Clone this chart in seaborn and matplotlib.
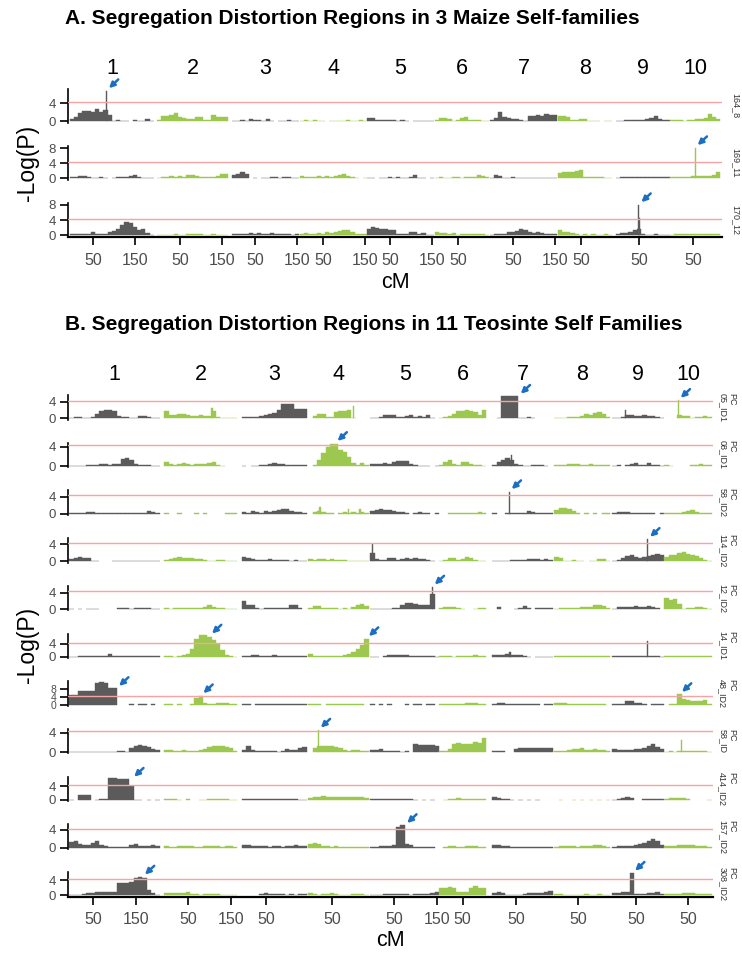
import numpy as np
import matplotlib
matplotlib.use("Agg")
import matplotlib.pyplot as plt
import matplotlib.transforms as mtransforms
import seaborn as sns

nan = np.nan

# ------------------------------------------------------------------
# DATA  (profiles sampled every STEP_CM cM along each chromosome)
# ------------------------------------------------------------------

STEP_CM = 10
THRESHOLD = 4.3
CHROM_LABELS = ["1", "2", "3", "4", "5", "6", "7", "8", "9", "10"]
A_CHROM_START = [0, 207, 386, 548, 707, 869, 1000, 1162, 1300, 1429]
B_CHROM_START = [0, 221, 402, 556, 700, 860, 984, 1128, 1263, 1384]
A_XLIM = (-9.5, 1548)
B_XLIM = (-8.0, 1492)

A_FAMILIES = ["164_8", "169_11", "170_12"]
B_FAMILIES = ["PC\n05_ID1", "PC\n08_ID1", "PC\n58_ID2", "PC\n114_ID2",
              "PC\n12_ID2", "PC\n14_ID1", "PC\n48_ID2", "PC\n58_ID",
              "PC\n414_ID2", "PC\n157_ID2", "PC\n308_ID2"]

# ---- A: maize self families ----
A_164_8 = [
    [0.5, 1.0, 1.8, 2.3, 2.2, 2.0, 2.8, 2.0, 2.5, 1.5, 0.1, 0.3, 0.2, 0.1, nan, 0.4, 0.1, 0.2, 0.6, 0.1],
    [0.3, 1.2, 1.3, 1.5, 1.8, 1.0, 0.7, 0.6, 0.6, 1.0, 0.9, 0.3, 0.4, 1.4, 1.0, 1.0, 0.9],
    [0.1, 0.1, 0.3, 0.2, 0.5, 0.4, 0.3, 0.2, 0.6, 0.2, nan, 0.1, 0.2, 0.3, 0.1, 0.2],
    [0.1, 0.3, 0.1, 0.4, 0.2, 0.1, nan, 0.2, 0.1, 0.2, 0.1, 0.3, 0.1, 0.2, 0.4, 0.1],
    [0.8, 0.7, 0.4, 0.3, 0.3, 0.4, 0.3, 0.2, 0.3, 0.2, nan, 0.2, 0.1, 0.2, 0.2, 0.1],
    [0.4, 0.7, 0.8, 0.5, 0.2, 0.3, 0.7, 0.9, 0.4, 0.3, 0.3, 0.2, 0.2],
    [0.3, 0.8, 2.0, 1.0, 0.7, 0.6, 0.6, 0.4, 0.2, 1.1, 1.3, 1.4, 1.3, 1.6, 1.4, 1.5],
    [1.3, 1.2, 1.0, 0.3, 0.4, 0.6, 0.5, 0.2, 0.2, 0.1, nan, 0.1, 0.1],
    [0.2, 0.2, 0.3, 0.3, 0.3, 0.4, 0.4, 0.5, 0.7, 1.2, 0.6, 0.3, 0.3],
    [0.3, 0.4, 0.3, 0.2, 0.4, 0.4, 0.5, 0.6, 0.8, 1.6, 0.9, 0.6],
]
A_164_8_SPIKES = [(1, 82, 6.8)]
A_164_8_ARROWS = [(1, 82, 6.8)]

A_169_11 = [
    [0.4, 0.5, 0.6, 0.7, 0.3, 0.2, 0.2, 0.3, 0.1, nan, 0.1, 0.4, 0.4, 0.5, 0.6, 0.8, 0.4, 0.1, 0.1, 0.1],
    [0.2, 0.4, 0.5, 0.6, 0.5, 0.6, 0.5, 0.8, 0.9, 0.6, 0.4, 0.5, 0.4, 0.5, 0.6, 1.1, 1.3],
    [0.8, 1.3, 1.7, 1.2, nan, 0.1, nan, 0.1, 0.2, 0.3, 0.3, 0.2, 0.3, 0.3, 0.2, 0.1],
    [0.6, 0.5, 0.5, 0.4, 0.6, 0.5, 0.6, 0.5, 0.6, 0.9, 1.2, 0.6, 0.3, 0.2, nan, 0.1],
    [0.1, 0.1, nan, 0.2, 0.2, 0.3, 0.2, 0.3, 0.1, 0.2, 0.3, 0.8, 0.2, 0.1, nan, 0.1],
    [0.2, 0.3, 0.2, 0.1, 0.3, 0.4, 0.2, 0.3, 0.5, 0.4, 1.0, 0.6, 0.3],
    [0.2, 1.0, 0.6, 0.1, 0.2, 0.3, 0.2, 0.2, 0.2, 0.2, 0.2, 0.2, 0.1, 0.2, 0.2, 0.1],
    [1.5, 1.6, 1.7, 1.8, 2.0, 2.3, 0.3, 0.3, 0.4, 0.3, 0.3, 0.2, 0.2],
    [0.2, 0.3, 0.4, 0.4, 0.3, 0.4, 0.4, 0.5, 0.4, 0.4, 0.4, 0.3, 0.3],
    [0.3, 0.3, 0.3, 0.4, 0.3, 0.6, 0.7, 0.6, 0.7, 0.6, 0.8, 1.6],
]
A_169_11_SPIKES = [(10, 55, 8.2)]
A_169_11_ARROWS = [(10, 55, 8.2)]

A_170_12 = [
    [0.3, 0.4, 0.3, 0.4, 0.5, 0.8, 0.5, 0.4, 0.5, 1.0, 1.1, 1.8, 2.8, 3.6, 3.2, 2.2, 1.3, 1.6, 0.6, 0.2],
    [0.2, 0.1, 0.2, 0.1, 0.3, 0.2, 0.2, 0.3, 0.4, 0.5, 0.3, 0.2, 0.2, 0.3, 0.2, 0.2, 0.1],
    [0.4, 0.5, 0.3, 0.5, 0.6, 0.5, 0.7, 0.5, 0.4, 0.6, 0.5, 0.3, 0.3, 0.3, 0.2, 0.3],
    [0.5, 0.6, 0.4, 0.5, 0.7, 0.5, 0.8, 0.7, 0.9, 1.1, 1.3, 1.4, 1.0, 0.4, 0.5, 0.5],
    [1.8, 2.2, 1.9, 1.7, 1.6, 1.4, 1.3, 0.5, 0.3, 0.3, 0.8, 0.9, 0.3, 0.7, 0.2, 0.2],
    [0.8, 0.7, 0.6, 0.5, 0.6, 0.2, 0.3, 0.3, 0.4, 0.3, 0.3, 0.3, 0.2],
    [0.2, 0.3, 0.3, 0.5, 0.8, 1.0, 1.2, 1.6, 1.3, 0.8, 0.7, 0.8, 0.6, 0.5, 0.4, 0.3],
    [1.5, 1.0, 0.8, 0.7, 0.3, 0.2, 0.3, 0.2, 0.3, 0.2, 0.2, 0.3, 0.2],
    [0.5, 0.6, 0.7, 0.8, 1.5, 1.6, 0.3, 0.2, 0.1, 0.3, 0.2, 0.2, 0.1],
    [0.2, 0.3, 0.3, 0.3, 0.4, 0.4, 0.5, 0.5, 0.4, 0.3, 0.3, 0.4],
]
A_170_12_SPIKES = [(9, 50, 8.1), (9, 52.5, 4.6)]
A_170_12_ARROWS = [(9, 50, 8.1)]

# ---- B: teosinte self families ----
B_05_ID1 = [
    [0.2, 0.3, 0.3, 0.2, 0.2, 0.3, 1.0, 1.9, 2.0, 2.0, 1.9, 0.5, 0.4, 0.3, 0.2, 0.2, 0.6, 0.6, 0.4, 0.2, 0.2],
    [1.8, 0.8, 0.8, 1.0, 1.1, 0.9, 0.6, 0.6, 0.7, 0.5, 0.6, 1.8, 0.4, 0.1, 0.1, 0.1, 0.1],
    [0.3, 0.3, 0.3, 0.3, 0.6, 0.8, 1.0, 1.3, 2.0, 3.6, 3.6, 3.5, 2.2, 2.3, 2.2],
    [nan, 0.6, 1.1, 1.0, 0.3, 0.4, 1.6, 1.8, 1.9, 2.1, 0.1, nan, nan, nan],
    [0.1, 0.2, 0.3, 0.8, 0.9, 0.7, 0.3, 0.4, 0.5, 0.8, 0.3, 0.5, 0.4, 0.7, 0.2, nan],
    [0.2, 0.3, 0.5, 1.0, 1.7, 1.9, 2.1, 1.8, 1.5, 0.8, 2.0],
    [nan, 0.1, 5.4, 5.4, 5.4, 5.4, 0.2, 0.2, 0.3, 0.1, nan, nan, nan, nan],
    [0.1, 0.2, 0.2, 0.3, 0.3, 0.4, 0.5, 1.0, 0.9, 1.3, 1.5, 1.0, 0.4],
    [0.1, 0.2, 0.3, 0.7, 0.7, 0.6, 0.6, 0.7, 0.5, 0.6, 0.4, 0.2],
    [nan, nan, nan, 0.7, 0.6, 0.5, 0.2, 0.3, 0.4, 0.5, 0.3],
]
B_05_ID1_SPIKES = [(2, 106, 2.5), (4, 100, 2.9), (9, 25, 2.0), (10, 27, 4.4)]
B_05_ID1_ARROWS = [(7, 55, 5.4), (10, 27, 4.4)]

B_08_ID1 = [
    [0.1, 0.1, 0.1, 0.1, 0.2, 0.2, 0.3, 0.4, 0.4, 0.3, 0.4, 0.5, 1.4, 1.6, 1.3, 0.4, 0.3, 0.3, 0.2, 0.1, 0.1],
    [0.8, 0.4, 0.3, 0.4, 0.6, 0.5, 0.3, 0.5, 0.4, 0.5, 0.7, 0.8, 0.3, 0.1, nan, nan, nan],
    [0.1, nan, 0.1, 0.1, 0.2, 0.3, 0.4, 0.6, 0.5, 0.4, 0.3, 0.3, 0.2, 0.3, 0.2],
    [nan, 0.2, 1.2, 2.6, 4.0, 4.6, 4.5, 3.3, 3.0, 1.8, 0.6, 0.3, 0.6, 0.2],
    [0.4, 0.5, 0.5, 0.6, 0.5, 0.9, 1.0, 1.1, 1.0, 0.5, 0.2, 0.1, 0.1, 0.1, nan, 0.1],
    [0.3, 0.8, 1.2, 0.4, 0.2, 0.8, 0.9, 0.5, 0.2, 0.2, 0.1],
    [0.3, 0.9, 1.2, 1.6, 1.2, 0.4, 0.2, 0.1, 0.1, 0.2, 0.3, 0.3, 0.1, nan],
    [0.2, 0.3, 0.3, 0.4, 0.5, 0.4, 0.3, 0.3, 0.4, 0.3, 0.3, 0.3, 0.2],
    [0.1, 0.2, nan, 0.3, 0.5, 0.6, 0.3, 0.2, 0.6, 0.3, 0.2, 0.1],
    [0.2, 0.1, nan, nan, nan, nan, 0.3, 0.3, 0.4, 0.3, 0.3],
]
B_08_ID1_SPIKES = [(7, 40, 2.2)]
B_08_ID1_ARROWS = [(4, 57, 4.7)]

B_58_ID2 = [
    [0.1, 0.1, 0.1, 0.1, 0.4, 0.4, 0.3, 0.1, 0.1, 0.3, 0.3, 0.3, 0.3, 0.2, 0.1, 0.1, 0.1, 0.2, 0.6, 0.5, 0.1],
    [0.1, nan, nan, 0.1, nan, nan, nan, 0.1, nan, 0.1, nan, nan, nan, nan, 0.2, 0.2, 0.1],
    [0.4, 0.3, 0.6, 0.4, 0.3, 0.7, 0.5, 0.6, 0.8, 1.1, 1.2, 0.7, 0.5, 0.4, 0.3],
    [nan, 0.5, 0.6, 0.5, 0.2, 0.1, nan, 0.3, 0.4, 0.3, 0.4, 0.3, 0.4, 0.3],
    [0.6, 0.9, 1.1, 1.0, 0.9, 0.7, 0.4, 0.5, 0.3, nan, 0.3, 0.4, 0.3, 0.1, nan, 0.1],
    [nan, nan, 0.2, 0.3, 0.2, 0.3, 0.3, 0.3, 0.3, 0.4, 0.2],
    [0.1, nan, nan, 0.1, 0.2, 0.2, 0.3, 0.2, 0.6, 0.4, 0.2, 0.2, 0.3, 0.1],
    [1.0, 1.3, 1.4, 1.2, 0.6, 0.1, nan, 0.1, nan, 0.1, nan, 0.1, 0.1],
    [0.3, 0.4, 0.4, 0.4, 0.3, 0.3, 0.2, 0.1, 0.2, 0.1, nan, 0.1],
    [0.1, 0.2, 0.2, 0.3, 0.4, 0.6, 0.8, 0.5, 0.3, 0.2, 0.1],
]
B_58_ID2_SPIKES = [(4, 22, 1.7), (4, 88, 1.2), (4, 115, 1.1), (7, 34, 5.2)]
B_58_ID2_ARROWS = [(7, 34, 5.2)]

B_114_ID2 = [
    [0.5, 0.8, 1.0, 0.9, 0.7, 0.2, 0.1, nan, nan, nan, 0.1, 0.1, 0.1, 0.1, 0.1, 0.2, 0.2, 0.1, 0.1, 0.1, 0.1],
    [0.3, 0.6, 0.8, 1.1, 0.9, 0.8, 0.7, 0.6, 0.5, 0.4, 0.2, 0.1, 0.3, 0.3, 0.2, 0.1, 0.1],
    [1.1, 0.8, 0.5, 0.4, 0.3, 0.4, 0.5, 0.4, 0.3, 0.3, 0.3, 0.2, 0.3, 0.2, 0.1],
    [0.5, 0.4, 0.5, 0.6, 0.4, 0.5, 0.4, 0.3, 0.3, 0.2, 0.1, 0.1, 0.2, 0.1],
    [2.0, 0.5, 0.4, 0.4, 0.7, 0.8, 0.4, 0.6, 0.7, 0.6, 0.7, 0.5, 0.6, 0.3, 0.1, nan],
    [0.2, 0.4, 0.8, 0.9, 0.3, 0.5, 1.0, 0.7, 0.3, 0.2, 0.1],
    [0.1, 0.1, 0.2, 0.2, 0.3, 0.3, 0.3, 0.4, 0.5, 0.5, 0.6, 0.4, 0.5, 0.3],
    [1.0, 0.8, 0.2, 0.2, 0.3, 0.2, 0.1, nan, 0.2, 0.2, 0.6, 0.5, 0.2],
    [0.2, 0.4, 0.8, 1.3, 1.5, 1.0, 0.8, 1.1, 1.3, 1.6, 1.8, 1.5],
    [1.0, 1.5, 1.6, 1.9, 2.1, 1.8, 1.6, 1.2, 0.8, 0.4, 0.2],
]
B_114_ID2_SPIKES = [(5, 1, 4.0), (9, 77, 5.2)]
B_114_ID2_ARROWS = [(9, 77, 5.2)]

B_12_ID2 = [
    [0.1, nan, 0.1, nan, 0.1, 0.1, 0.1, nan, nan, nan, nan, 0.2, 0.4, 0.2, 0.1, 0.3, 0.2, 0.3, 0.2, 0.1, 0.1],
    [0.2, 0.1, 0.2, 0.3, 0.3, 0.2, 0.2, 0.3, 0.4, 0.6, 1.0, 0.6, 0.3, 0.2, 0.1, 0.1, 0.1],
    [1.9, 1.0, 1.1, 0.3, 0.1, 0.3, 0.3, 0.2, 0.3, 0.2, 0.4, 1.0, 1.0, 0.2, nan],
    [0.3, 0.7, 0.8, 0.4, 0.2, 0.3, 0.2, 0.1, 0.2, 0.1, 0.5, 1.1, 1.3, 0.7],
    [0.1, 0.1, 0.1, 0.1, 0.1, 0.2, 0.2, 1.1, 1.4, 1.5, 1.3, 0.9, 1.0, 0.9, 3.6, nan],
    [0.3, 0.5, 0.6, 0.5, 0.4, 0.1, nan, nan, 0.1, 0.2, 0.3],
    [nan, 0.6, nan, nan, nan, 0.1, 0.4, 0.8, 0.4, nan, 0.4, 0.4, 0.4, 0.3],
    [0.1, 0.3, 0.3, 0.3, 0.4, 0.4, 0.5, 0.5, 0.6, 0.9, 1.1, 0.7, 0.2],
    [0.1, 0.5, 0.6, 0.6, 0.6, 0.7, 0.6, 0.5, 0.7, 0.5, 0.2, nan],
    [2.8, 2.2, 2.5, 1.3, 0.1, 0.2, 0.3, 0.5, 0.6, 0.3, 0.1],
]
B_12_ID2_SPIKES = [(5, 139, 5.4)]
B_12_ID2_ARROWS = [(5, 139, 5.4)]

B_14_ID1 = [
    [0.1, 0.1, 0.3, 0.3, 0.3, 0.3, 0.3, 0.3, 0.3, 0.8, 0.3, 0.2, 0.3, 0.2, 0.3, 0.3, 0.2, 0.3, 0.3, 0.2, 0.2],
    [0.4, 0.3, 0.1, 0.2, 0.5, 1.0, 2.5, 5.5, 6.8, 6.7, 6.2, 5.2, 3.8, 2.2, 0.7, 0.3, 0.1],
    [0.3, 0.3, 0.5, 0.6, 0.4, 0.3, 0.4, 0.5, 0.3, 0.4, 0.4, 0.3, 0.2, 0.3, 0.2],
    [0.8, 0.4, 0.2, 0.2, 0.3, 0.3, 0.4, 0.4, 0.6, 0.9, 1.6, 2.5, 3.6, 5.6],
    [0.1, 0.1, nan, 0.3, 0.5, 0.6, 0.7, 0.6, 0.5, 0.4, 0.4, 0.3, 0.4, 0.2, 0.3, 0.1],
    [0.3, 0.4, 0.3, 0.1, 0.3, 0.2, 0.3, 0.4, 0.5, 0.3, 0.2],
    [0.6, 0.7, 0.6, 0.8, 0.6, 0.6, 0.5, 0.3, 0.1, nan, 0.1, 0.1, 0.1, 0.1],
    [0.3, 0.4, 0.3, 0.2, 0.2, 0.3, 0.3, 0.4, 0.3, 0.4, 0.4, 0.3, 0.2],
    [0.2, 0.3, 0.3, 0.3, 0.2, 0.2, 0.3, 0.2, 0.3, 0.3, 0.2, 0.1],
    [0.2, 0.2, 0.3, 0.2, 0.2, 0.3, 0.3, 0.3, 0.4, 0.3, 0.2],
]
B_14_ID1_SPIKES = [(7, 36, 1.5), (9, 76, 4.7)]
B_14_ID1_ARROWS = [(2, 100, 6.4), (4, 130, 5.6)]

B_48_ID2 = [
    [4.7, 4.7, 6.7, 6.7, 6.7, 6.7, 11.0, 11.4, 11.2, 8.3, 8.3, nan, nan, nan, 0.1, nan, 0.1, 0.1, nan, 0.1, nan],
    [0.1, 0.1, nan, 0.1, nan, nan, 0.1, 3.2, 4.6, 0.8, 0.5, 0.5, 0.7, 0.8, 0.6, 0.4, 0.2],
    [0.2, 0.1, nan, 0.2, 0.1, 0.2, 0.2, 0.1, 0.3, 0.2, 0.2, 0.2, 0.2, 0.1, 0.1],
    [0.1, 0.2, 0.1, nan, 0.2, 0.2, 0.3, 0.3, 0.2, 0.3, 0.5, 0.3, 0.2, nan],
    [0.1, nan, 0.1, nan, 0.1, nan, nan, nan, 0.1, nan, 0.2, 0.1, nan, 0.1, 0.1, nan],
    [0.1, 0.2, 0.3, 0.3, 0.4, 0.5, 0.6, 0.8, 1.0, 0.5, 0.4],
    [0.4, 1.0, 0.9, 0.5, 0.3, 0.3, 0.3, 0.2, 0.2, 0.2, 0.1, nan, 0.1, 0.1],
    [0.8, 0.9, 0.6, 0.3, 0.2, 0.2, 0.3, 0.2, 0.2, 0.3, 0.2, 0.1, nan],
    [0.1, 0.2, 0.5, 1.8, 1.6, 1.0, 0.6, 0.3, nan, 0.3, 0.4, 0.2],
    [nan, 0.2, 0.2, 5.2, 3.0, 2.2, 2.0, 2.0, 2.0, 2.5, 0.1],
]
B_48_ID2_SPIKES = []
B_48_ID2_ARROWS = [(1, 105, 8.3), (2, 80, 4.6), (10, 30, 5.2)]

B_58_ID = [
    [0.1, 0.1, 0.1, 0.1, 0.1, 0.1, 0.1, 0.1, 0.1, 0.1, 0.1, 0.2, 0.3, 0.1, 0.8, 1.2, 1.5, 1.2, 1.0, 0.7, 0.4],
    [0.5, 0.4, 0.3, 0.3, 0.4, 0.3, 0.3, 0.3, 0.4, 0.6, 1.1, 1.3, 1.4, 1.2, 1.0, 0.9, 0.3],
    [0.5, 1.2, 0.5, 0.2, 0.2, 0.3, 0.3, 0.2, 0.1, 0.3, 0.6, 0.4, 0.5, 0.8, 1.1],
    [nan, 0.9, 1.2, 1.3, 1.4, 1.2, 1.0, 0.8, 0.5, 0.3, 0.4, 0.5, 0.3, 0.2],
    [0.4, 0.5, 0.6, 0.3, 0.2, 0.2, 0.2, 0.1, 0.2, nan, 1.8, 1.6, 1.5, 1.5, 1.6, 1.4],
    [0.2, 0.3, 0.6, 1.8, 1.9, 1.8, 1.7, 1.8, 2.2, 2.0, 3.0],
    [0.3, 0.2, 0.3, nan, nan, 0.6, 0.8, 0.8, 0.8, 0.8, 0.8, 0.9, 0.9, 0.9],
    [0.2, 0.3, 0.3, 0.5, 0.6, 0.6, 0.8, 0.5, 0.4, 0.7, 0.4, 0.4, 0.2],
    [0.6, 0.5, 0.4, 0.4, 0.5, 0.6, 0.7, 0.9, 1.2, 1.8, 1.0, 0.6],
    [0.1, 0.2, 0.1, 0.2, 0.3, 0.2, 0.2, 0.3, 0.2, 0.2, 0.1],
]
B_58_ID_SPIKES = [(4, 18, 4.6), (10, 35, 2.6)]
B_58_ID_ARROWS = [(4, 18, 4.6)]

B_414_ID2 = [
    [0.1, nan, 1.5, 1.5, 1.5, nan, 0.1, 0.2, 0.3, 6.2, 6.4, 6.0, 6.0, 5.9, 4.0, 0.1, 0.1, nan, 0.1, nan, 0.1],
    [0.2, 0.2, 0.3, 0.1, nan, 0.2, nan, nan, 0.1, 0.1, 0.2, 0.2, 0.2, 0.2, 0.2, 0.1, 0.1],
    [0.3, 0.3, 0.2, 0.3, 0.3, 0.3, 0.2, 0.3, 0.3, 0.3, 0.4, 0.3, 0.2, 0.1, 0.1],
    [0.5, 0.9, 1.0, 1.1, 1.0, 0.9, 0.8, 0.8, 0.9, 0.8, 0.8, 0.9, 1.0, 0.7],
    [0.3, 0.3, 0.3, 0.3, 0.3, 0.3, 0.3, 0.3, 0.2, 0.2, 0.1, nan, 0.1, nan, 0.1, nan],
    [nan, 0.1, 0.3, 0.4, 0.5, 0.4, 0.3, 0.4, 0.3, 0.2, 0.2],
    [1.0, 0.6, 0.4, 0.2, 0.1, nan, 0.1, nan, 0.1, nan, 0.1, nan, nan, nan],
    [nan, 0.1, nan, nan, 0.1, nan, 0.1, nan, 0.1, nan, 0.1, nan, 0.1],
    [0.1, 0.3, 0.5, 0.9, 0.5, nan, nan, 0.3, 0.3, 0.3, 0.3, 0.2],
    [0.4, 0.5, 0.6, 0.6, 0.5, 0.3, nan, nan, nan, nan, 0.1],
]
B_414_ID2_SPIKES = []
B_414_ID2_ARROWS = [(1, 140, 6.0)]

B_157_ID2 = [
    [1.2, 1.4, 0.8, 0.7, 0.6, 1.0, 1.4, 0.7, 0.3, 0.2, 0.2, 0.1, 0.1, 0.2, 0.5, 0.8, 0.4, 0.3, 0.3, 0.5, 0.3],
    [0.4, 0.2, 0.2, 0.3, 0.4, 0.3, 0.3, 0.2, 0.2, 0.3, 0.4, 0.3, 0.3, 0.2, 0.3, 0.3, 0.2],
    [0.5, 0.6, 0.4, 0.3, 0.4, 0.3, 0.2, 0.3, 0.3, 0.2, 0.3, 0.4, 0.5, 0.4, 0.4],
    [0.9, 1.0, 0.8, 0.4, 0.3, 0.2, 0.3, 0.2, 0.2, 0.1, 0.1, 0.1, 0.1, 0.1],
    [0.2, 0.2, 0.3, 0.3, 0.3, 0.6, 4.7, 5.0, 0.9, 0.7, 0.2, 0.2, 0.1, 0.1, 0.1, nan],
    [nan, 0.1, 0.3, 0.3, 0.2, 0.2, 0.3, 0.3, 0.3, 0.2, 0.2],
    [0.6, 0.5, 0.3, 0.3, 0.2, 0.2, 0.2, 0.2, 0.1, 0.1, 0.1, 0.1, 0.1, 0.1],
    [0.2, 0.3, 0.3, 0.3, 0.3, 0.2, 0.3, 0.3, 0.4, 0.5, 0.6, 0.3, 0.2],
    [0.2, 0.3, 0.3, 0.3, 0.4, 0.5, 0.8, 1.1, 1.4, 1.9, 1.5, 0.6],
    [0.3, 0.4, 0.4, 0.5, 0.5, 0.6, 0.5, 0.4, 0.3, 0.3, 0.2],
]
B_157_ID2_SPIKES = []
B_157_ID2_ARROWS = [(5, 75, 5.0)]

B_308_ID2 = [
    [0.2, 0.2, 0.2, 0.3, 0.6, 0.7, 0.8, 0.8, 0.9, 0.8, 0.9, 3.2, 3.2, 3.3, 3.4, 4.4, 4.7, 4.5, 1.5, 0.6, 0.2],
    [0.6, 0.5, 0.6, 0.5, 0.7, 0.8, 0.3, 0.3, 0.2, 0.3, 0.3, 0.4, 0.3, 0.2, 0.2, 0.2, 0.1],
    [nan, nan, nan, nan, 0.3, 0.5, 0.3, 0.3, 0.4, 0.3, 0.2, 0.3, 0.2, 0.3, 0.4],
    [0.5, 0.4, 0.2, 0.3, 0.4, 0.5, 0.3, 0.2, 0.2, 0.2, 0.3, 0.3, 0.4, 0.2],
    [0.1, 0.2, 0.2, 0.3, 0.4, 0.3, 0.3, 0.3, 0.3, 0.2, 0.3, 0.3, 0.3, 0.4, 0.5, 0.9],
    [1.8, 2.0, 2.2, 2.0, 1.0, 0.8, 0.9, 1.8, 2.4, 2.0, 1.8],
    [0.7, 0.9, 0.7, 0.2, 0.1, 0.2, 0.2, 0.3, 0.5, 0.6, 0.7, 0.6, 0.8, 1.2],
    [0.3, 0.3, 0.2, 0.2, 0.2, 0.2, 0.2, 0.3, 0.2, 0.2, 0.3, 0.2, 0.2],
    [0.5, 0.6, 0.8, 0.9, 5.8, 0.3, 0.3, 0.4, 0.7, 0.7, 0.8, 0.4],
    [0.3, 0.3, 0.4, 0.4, 0.5, 0.5, 0.6, 0.4, 0.3, 0.3, 0.3],
]
B_308_ID2_SPIKES = []
B_308_ID2_ARROWS = [(1, 165, 4.8), (9, 42, 5.8)]

A_PANELS = [(A_164_8, A_164_8_SPIKES, A_164_8_ARROWS),
            (A_169_11, A_169_11_SPIKES, A_169_11_ARROWS),
            (A_170_12, A_170_12_SPIKES, A_170_12_ARROWS)]
B_PANELS = [(B_05_ID1, B_05_ID1_SPIKES, B_05_ID1_ARROWS),
            (B_08_ID1, B_08_ID1_SPIKES, B_08_ID1_ARROWS),
            (B_58_ID2, B_58_ID2_SPIKES, B_58_ID2_ARROWS),
            (B_114_ID2, B_114_ID2_SPIKES, B_114_ID2_ARROWS),
            (B_12_ID2, B_12_ID2_SPIKES, B_12_ID2_ARROWS),
            (B_14_ID1, B_14_ID1_SPIKES, B_14_ID1_ARROWS),
            (B_48_ID2, B_48_ID2_SPIKES, B_48_ID2_ARROWS),
            (B_58_ID, B_58_ID_SPIKES, B_58_ID_ARROWS),
            (B_414_ID2, B_414_ID2_SPIKES, B_414_ID2_ARROWS),
            (B_157_ID2, B_157_ID2_SPIKES, B_157_ID2_ARROWS),
            (B_308_ID2, B_308_ID2_SPIKES, B_308_ID2_ARROWS)]

# ------------------------------------------------------------------
# STYLE
# ------------------------------------------------------------------

W, H = 742, 957
GRAY = "#5B5B5B"
GREEN = "#9DC84F"
RED = "#F5A3A3"
BLUE = "#1B6EC2"
TICK_GRAY = "#4D4D4D"

sns.set_theme(style="white")
plt.rcParams["font.family"] = ["Liberation Sans", "DejaVu Sans"]
plt.rcParams["text.color"] = "black"


def px_axes(fig, left, top, right, height):
    return fig.add_axes([left / W, 1 - (top + height) / H,
                         (right - left) / W, height / H])


def draw_panel(ax, profile, spikes, arrows, starts, xlim, show_x):
    ymax = 0.0
    for k, vals in enumerate(profile):
        col = GRAY if k % 2 == 0 else GREEN
        vals = np.array(vals, dtype=float)
        x = starts[k] + STEP_CM * np.arange(len(vals))
        ax.bar(x, vals, width=STEP_CM, color=col, edgecolor=col,
               linewidth=0.3, align="center")
        ymax = max(ymax, np.nanmax(vals))
    for chrom, cm, h in spikes:
        col = GRAY if (chrom - 1) % 2 == 0 else GREEN
        ax.bar(starts[chrom - 1] + cm, h, width=2.6, color=col,
               edgecolor=col, linewidth=0.3)
        ymax = max(ymax, h)
    ax.axhline(THRESHOLD, color=RED, lw=1.0, zorder=5)
    for chrom, cm, h in arrows:
        ax.annotate("", xy=(starts[chrom - 1] + cm, h), xytext=(8.5, 8),
                    textcoords="offset points", annotation_clip=False,
                    arrowprops=dict(arrowstyle="-|>", color=BLUE, lw=1.8,
                                    mutation_scale=8, shrinkA=0, shrinkB=2.5))
    ax.set_xlim(*xlim)
    ax.set_ylim(-0.05 * ymax, 1.05 * ymax)
    yt = [t for t in range(0, 13, 4) if t <= ymax]
    ax.set_yticks(yt)
    sns.despine(ax=ax, top=True, right=True, bottom=not show_x)
    ax.spines["left"].set_linewidth(1.2)
    ax.spines["left"].set_color("black")
    ax.tick_params(axis="y", length=5.5, width=1.2, color="black",
                   labelsize=9.5 if len(yt) < 3 or ymax < 10 else 7.5,
                   labelcolor=TICK_GRAY, pad=3, left=True)
    ax.grid(False)
    ax.set_facecolor("none")
    if show_x:
        ticks, labels = [], []
        for k, vals in enumerate(profile):
            span = STEP_CM * (len(vals) - 1)
            for t in (50, 150):
                if t <= span:
                    ticks.append(starts[k] + t)
                    labels.append(str(t))
        ax.set_xticks(ticks)
        ax.set_xticklabels(labels)
        ax.spines["bottom"].set_linewidth(1.6)
        ax.spines["bottom"].set_color("black")
        ax.tick_params(axis="x", length=5.5, width=1.2, color="black",
                       labelsize=11.5, labelcolor=TICK_GRAY, pad=6, bottom=True)
    else:
        ax.set_xticks([])


def draw_section(fig, panels, names, starts, xlim, right, tops, height,
                 title, title_y, chrom_y, ylabel_y, cm_y):
    fig.text(65 / W, 1 - title_y / H, title, fontsize=15, fontweight="bold",
             va="center", ha="left", color="black")
    axes = []
    for i, (profile, spikes, arrows) in enumerate(panels):
        ax = px_axes(fig, 68, tops[i], right, height)
        draw_panel(ax, profile, spikes, arrows, starts, xlim,
                   show_x=(i == len(panels) - 1))
        fig.text((right + 14) / W, 1 - (tops[i] + height / 2) / H, names[i],
                 rotation=-90, fontsize=6.5, color="#333333",
                 ha="center", va="center", multialignment="left",
                 linespacing=1.0)
        axes.append(ax)
    top_ax = axes[0]
    trans = mtransforms.blended_transform_factory(top_ax.transData, fig.transFigure)
    for k, lab in enumerate(CHROM_LABELS):
        span = STEP_CM * (len(panels[0][0][k]) - 1)
        top_ax.text(starts[k] + span / 2, 1 - chrom_y / H, lab, transform=trans,
                    ha="center", va="center", fontsize=15.5, color="black")
    fig.text(27 / W, 1 - ylabel_y / H, "-Log(P)", rotation=90, fontsize=16.5,
             ha="center", va="center", color="black")
    fig.text((68 + right) / 2 / W, 1 - cm_y / H, "cM", fontsize=15.5,
             ha="center", va="center", color="black")


fig = plt.figure(figsize=(W / 100, H / 100), dpi=100)

draw_section(fig, A_PANELS, A_FAMILIES, A_CHROM_START, A_XLIM, 722,
             [89, 146, 203], 34,
             "A. Segregation Distortion Regions in 3 Maize Self-families",
             18, 68, 163, 282)

B_TOPS = [395 + 47.7 * i for i in range(len(B_PANELS))]
draw_section(fig, B_PANELS, B_FAMILIES, B_CHROM_START, B_XLIM, 713,
             B_TOPS, 24.5,
             "B. Segregation Distortion Regions in 11 Teosinte Self Families",
             325, 375, 645, 940)

fig.savefig("out.png", dpi=100)
